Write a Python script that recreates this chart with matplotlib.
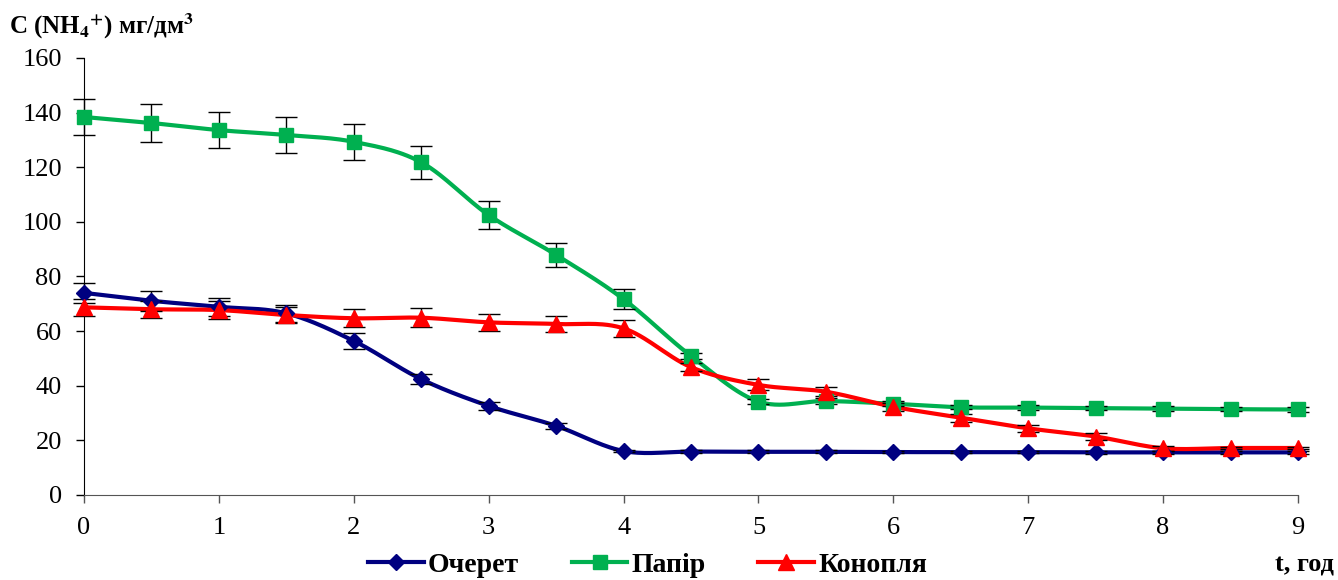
import matplotlib
matplotlib.use("Agg")
import matplotlib.pyplot as plt
from matplotlib.lines import Line2D
import numpy as np

plt.rcParams["font.family"] = ["Liberation Serif", "DejaVu Serif"]
plt.rcParams["mathtext.fontset"] = "stix"

# --- data ---
t = [0, 0.5, 1, 1.5, 2, 2.5, 3, 3.5, 4, 4.5, 5, 5.5, 6, 6.5, 7, 7.5, 8, 8.5, 9]

ocheret = [74.0, 71.1, 68.9, 66.5, 56.4, 42.4, 32.6, 25.3, 16.1, 15.9,
           15.8, 15.8, 15.7, 15.7, 15.7, 15.6, 15.6, 15.6, 15.6]
papir = [138.4, 136.2, 133.6, 131.8, 129.3, 121.8, 102.5, 87.9, 71.7, 50.9,
         34.2, 34.4, 33.4, 32.1, 32.0, 31.8, 31.6, 31.4, 31.3]
konoplia = [68.7, 68.0, 67.7, 65.9, 64.7, 64.9, 63.2, 62.6, 61.0, 46.8,
            40.3, 37.8, 32.3, 28.3, 24.4, 21.4, 17.1, 17.2, 17.2]

err_ocheret = [3.7, 3.7, 3.4, 3.0, 2.9, 1.8, 1.6, 1.2, 0.5, 0.5,
               0.5, 0.5, 0.5, 0.5, 0.5, 0.5, 0.5, 0.5, 0.5]
err_papir = [6.7, 6.8, 6.5, 6.5, 6.5, 6.0, 5.2, 4.4, 3.6, 1.0,
             1.0, 1.0, 1.0, 0.8, 0.8, 0.8, 0.8, 0.8, 0.8]
err_konoplia = [3.2, 3.2, 3.4, 3.0, 3.3, 3.4, 3.2, 3.0, 3.0, 1.5,
                2.0, 1.6, 1.5, 1.4, 1.4, 1.2, 1.0, 0.5, 0.5]

names = ["Очерет", "Папір", "Конопля"]
colors = ["#000080", "#00B050", "#FF0000"]
markers = ["D", "s", "^"]
msizes = [8, 10, 11]


def smooth(x, y, n=30):
    # Excel-like smoothed line: cubic Bezier through points (Catmull-Rom style)
    x = np.asarray(x, float)
    y = np.asarray(y, float)
    P = np.column_stack([x, y])
    out = []
    for i in range(len(P) - 1):
        p0 = P[i - 1] if i > 0 else P[i]
        p1 = P[i]
        p2 = P[i + 1]
        p3 = P[i + 2] if i + 2 < len(P) else P[i + 1]
        c1 = p1 + (p2 - p0) / 6.0
        c2 = p2 - (p3 - p1) / 6.0
        s = np.linspace(0, 1, n)[:, None]
        seg = ((1 - s) ** 3) * p1 + 3 * ((1 - s) ** 2) * s * c1 \
            + 3 * (1 - s) * s ** 2 * c2 + s ** 3 * p2
        out.append(seg if i == 0 else seg[1:])
    out = np.vstack(out)
    return out[:, 0], out[:, 1]


fig = plt.figure(figsize=(13.38, 5.8), dpi=100)
ax = fig.add_axes([0.0628, 0.1466, 0.9073, 0.7534])

series = [ocheret, papir, konoplia]
errs = [err_ocheret, err_papir, err_konoplia]
for vals, err, col, mk, ms in zip(series, errs, colors, markers, msizes):
    sx, sy = smooth(t, vals)
    ax.plot(sx, sy, color=col, lw=3, zorder=2, solid_capstyle="round")
    ax.errorbar(t, vals, yerr=err, fmt="none", ecolor="black", elinewidth=1,
                capsize=8, capthick=1, zorder=3, clip_on=False)
    ax.plot(t, vals, ls="none", marker=mk, color=col, ms=ms, zorder=4,
            clip_on=False)

ax.set_xlim(0, 9)
ax.set_ylim(0, 160)
ax.set_xticks(range(0, 10))
ax.set_yticks(range(0, 161, 20))
ax.tick_params(axis="both", direction="out", labelsize=19, length=6,
               width=1, colors="black")
ax.tick_params(axis="x", colors="#555555", labelcolor="black", pad=10)
ax.tick_params(axis="y", pad=10)
ax.spines["top"].set_visible(False)
ax.spines["right"].set_visible(False)
ax.spines["bottom"].set_color("#555555")

fig.text(0.007, 0.955, r"C (NH$_\mathbf{4}{}^\mathbf{+}$) мг/дм$^\mathbf{3}$",
         fontsize=18, fontweight="bold", ha="left", va="center")
fig.text(0.997, 0.026, "t, год", fontsize=19, fontweight="bold",
         ha="right", va="center")

handles = [Line2D([0], [0], color=c, lw=3, marker=m, ms=s)
           for c, m, s in zip(colors, markers, msizes)]
fig.legend(handles, names, loc="center", bbox_to_anchor=(0.484, 0.026),
           ncol=3, frameon=False, handlelength=2.0, columnspacing=1.9,
           handletextpad=0.15, prop={"weight": "bold", "size": 20})

fig.savefig("out.png", dpi=100)
